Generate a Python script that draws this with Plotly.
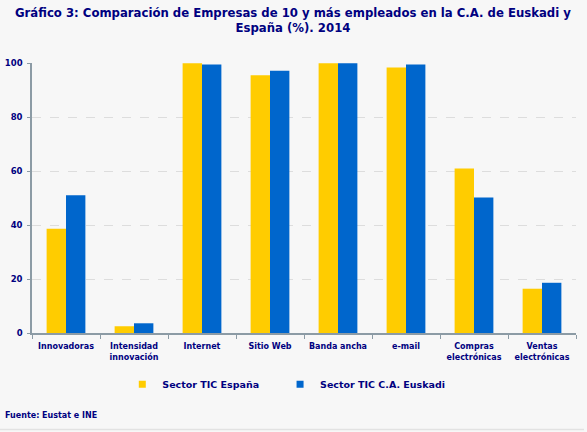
import plotly.graph_objects as go

categories = ["Innovadoras", "Intensidad<br>innovación", "Internet", "Sitio Web",
              "Banda ancha", "e-mail", "Compras<br>electrónicas", "Ventas<br>electrónicas"]
espana = [38.6, 2.5, 99.9, 95.5, 99.9, 98.3, 60.9, 16.4]
euskadi = [51.0, 3.6, 99.4, 97.1, 99.9, 99.4, 50.2, 18.6]
series_names = ["Sector TIC España", "Sector TIC C.A. Euskadi"]
colors = ["#FFCC00", "#0066CC"]
legend_ids = ["legend", "legend2"]

NAVY = "#000080"
FONT = "Verdana, DejaVu Sans, sans-serif"

fig = go.Figure()
for name, vals, col, lg in zip(series_names, [espana, euskadi], colors, legend_ids):
    fig.add_trace(go.Bar(x=categories, y=vals, name=name, marker_color=col,
                         marker_line_width=0, showlegend=False))
    fig.add_trace(go.Scatter(x=[None], y=[None], mode="markers", name=name, legend=lg,
                             marker=dict(symbol="square", size=7, color=col)))

legend_style = dict(orientation="h", xanchor="left", y=-0.19, yanchor="middle",
                    font=dict(family=FONT, size=9.5, color=NAVY, weight="bold"),
                    bgcolor="rgba(0,0,0,0)", itemwidth=30)

fig.update_layout(
    width=587, height=432,
    margin=dict(l=32, r=11, t=63, b=99, autoexpand=False),
    paper_bgcolor="#F7F7F7", plot_bgcolor="#F7F7F7",
    barmode="group", bargap=0.43, bargroupgap=0,
    font=dict(family=FONT, color=NAVY, size=9),
    legend=dict(x=0.166, **legend_style),
    legend2=dict(x=0.456, **legend_style),
    annotations=[
        dict(text="<b>Gráfico 3: Comparación de Empresas de 10 y más empleados en la C.A. de Euskadi y<br>España (%). 2014</b>",
             xref="paper", yref="paper", x=0.48, y=1.22, xanchor="center", yanchor="top",
             showarrow=False, align="center",
             font=dict(family=FONT, size=11.7, color=NAVY)),
        dict(text="<b>Fuente: Eustat e INE</b>", xref="paper", yref="paper",
             x=-0.054, y=-0.306, xanchor="left", yanchor="middle", showarrow=False,
             font=dict(family=FONT, size=8, color=NAVY)),
    ],
    shapes=[dict(type="line", xref="paper", yref="paper", x0=-32/544, x1=552/544,
                 y0=-0.357, y1=-0.357, line=dict(color="#E2E2E2", width=1.5))],
)
fig.update_xaxes(showline=True, linecolor="#8C9BA5", linewidth=1.5, automargin=False,
                 ticks="outside", tickson="boundaries", ticklen=4, tickcolor="#8C9BA5",
                 ticklabelstandoff=5,
                 tickangle=0, tickfont=dict(family=FONT, size=8, color=NAVY, weight="bold"))
fig.update_yaxes(range=[0, 100], dtick=20, showline=True, linecolor="#8C9BA5", linewidth=1.5,
                 automargin=False, ticks="outside", ticklen=3, tickcolor="#8C9BA5",
                 ticklabelstandoff=3,
                 showgrid=True, gridcolor="#DDDDDD", griddash="dash", gridwidth=1,
                 zeroline=False,
                 tickfont=dict(family=FONT, size=8.5, color=NAVY, weight="bold"))

fig.write_html("out.html", config={"displayModeBar": False},
               post_script="document.body.style.margin='0';")
